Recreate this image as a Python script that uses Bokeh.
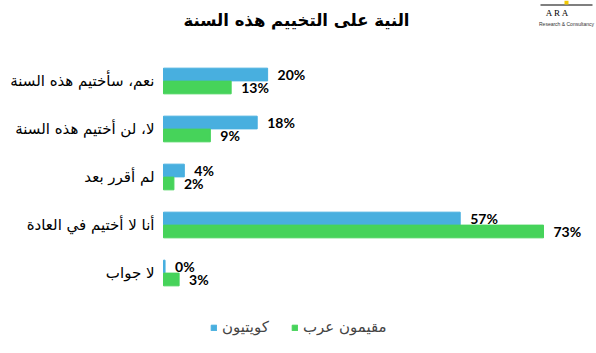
from bokeh.plotting import figure
from bokeh.models import (FactorRange, Range1d, Label, Legend, LegendItem,
                          ColumnDataSource, BoxAnnotation)
from bokeh.transform import dodge
from bokeh.core.properties import value
from bokeh.embed import file_html
from bokeh.resources import INLINE

title = "النية على التخييم هذه السنة"
categories = ["نعم، سأختيم هذه السنة", "لا، لن أختيم هذه السنة", "لم أقرر بعد",
              "أنا لا أختيم في العادة", "لا جواب"]
kuwaiti = [20, 18, 4, 57, 0.3]
arab_residents = [13, 9, 2, 73, 3]
kuwaiti_labels = ["20%", "18%", "4%", "57%", "0%"]
arab_labels = ["13%", "9%", "2%", "73%", "3%"]
series_names = ["كويتيون", "مقيمون عرب"]
colors = ["#48AFDF", "#46D35A"]

W, H = 596, 353
x0_px = 163          # pixel where 0% sits
px_per_pct = 380 / 73
pitch = 48           # pixels per category

cats_bottom_up = categories[::-1]
span = H / pitch
pad = (span - len(categories)) / len(categories)

p = figure(width=W, height=H, output_backend="svg", toolbar_location=None,
           x_range=Range1d(-x0_px / px_per_pct, (W - x0_px) / px_per_pct),
           y_range=FactorRange(factors=cats_bottom_up, range_padding=pad,
                               range_padding_units="percent"),
           min_border=0, min_border_left=0, min_border_right=0,
           min_border_top=0, min_border_bottom=0)
p.axis.visible = False
p.grid.visible = False
p.outline_line_color = None
p.background_fill_color = "white"
p.border_fill_color = "white"

src = ColumnDataSource(dict(
    cat=categories, kw=kuwaiti, ar=arab_residents,
    kw_lbl=kuwaiti_labels, ar_lbl=arab_labels))

off = 0.135
bh = 0.265
r1 = p.hbar(y=dodge("cat", off, range=p.y_range), right="kw", left=0, height=bh,
            color=colors[0], source=src)
r2 = p.hbar(y=dodge("cat", -off, range=p.y_range), right="ar", left=0, height=bh,
            color=colors[1], source=src)

num_font = value("Lato")
p.text(x="kw", y=dodge("cat", off, range=p.y_range), text="kw_lbl", source=src,
       x_offset=10, text_baseline="middle", text_align="left",
       text_font=num_font, text_font_style="bold", text_font_size="14px",
       text_color="black")
p.text(x="ar", y=dodge("cat", -off, range=p.y_range), text="ar_lbl", source=src,
       x_offset=10, text_baseline="middle", text_align="left",
       text_font=num_font, text_font_style="bold", text_font_size="14px",
       text_color="black")

# category labels
p.text(x=0, y="cat", text="cat", source=src, x_offset=-9,
       text_baseline="middle", text_align="right",
       text_font=value("DejaVu Sans"), text_font_size="15px", text_color="black")

# title
p.add_layout(Label(x=296, y=H - 20, x_units="screen", y_units="screen", text=title,
                   text_align="center", text_baseline="middle",
                   text_font="DejaVu Sans", text_font_style="bold",
                   text_font_size="16.5px", text_color="black"))

# logo
p.add_layout(BoxAnnotation(left=540, right=592, top=H - 4, bottom=H - 5,
                           left_units="screen", right_units="screen",
                           top_units="screen", bottom_units="screen",
                           fill_color="black", fill_alpha=1, line_color=None))
p.add_layout(BoxAnnotation(left=564, right=568, top=H, bottom=H - 4,
                           left_units="screen", right_units="screen",
                           top_units="screen", bottom_units="screen",
                           fill_color="#F2C800", fill_alpha=1, line_color=None))
p.add_layout(Label(x=566, y=H - 12, x_units="screen", y_units="screen",
                   text="A     R     A", text_align="center", text_baseline="middle",
                   text_font="Liberation Serif", text_font_size="9px",
                   text_color="black"))
p.add_layout(Label(x=566, y=H - 23, x_units="screen", y_units="screen",
                   text="Research & Consultancy", text_align="center",
                   text_baseline="middle", text_font="Liberation Sans",
                   text_font_size="5px", text_color="#333333"))

legend = Legend(items=[LegendItem(label=series_names[0], renderers=[r1]),
                       LegendItem(label=series_names[1], renderers=[r2])],
                orientation="horizontal", location=(210, 16),
                glyph_width=7, glyph_height=7, label_standoff=5, spacing=22,
                padding=0, margin=0, border_line_color=None,
                background_fill_alpha=0,
                label_text_font="DejaVu Sans", label_text_font_size="15px",
                label_height=20)
p.add_layout(legend, "center")

open("out.html", "w").write(file_html(p, INLINE))
